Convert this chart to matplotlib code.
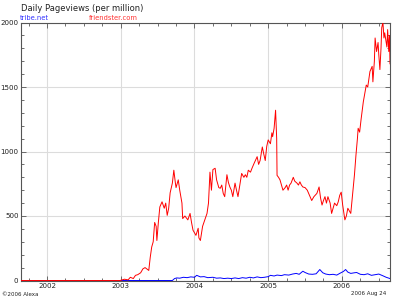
import matplotlib
matplotlib.use("Agg")
import matplotlib.pyplot as plt
from matplotlib.ticker import MultipleLocator, FixedLocator

# friendster.com daily pageviews (per million), x in decimal years
friendster_x = [2001.65, 2002.99, 2003.05, 2003.10, 2003.13, 2003.17, 2003.20, 2003.23, 2003.27, 2003.30,
                2003.33, 2003.38, 2003.40, 2003.42, 2003.44, 2003.46, 2003.48, 2003.49, 2003.51, 2003.53,
                2003.56, 2003.59, 2003.61, 2003.63, 2003.65, 2003.67, 2003.70, 2003.72, 2003.74, 2003.75,
                2003.78, 2003.80, 2003.83, 2003.84, 2003.87, 2003.91, 2003.94, 2003.96, 2003.98, 2004.02,
                2004.05, 2004.06, 2004.08, 2004.11, 2004.14, 2004.17, 2004.19, 2004.21, 2004.23, 2004.25,
                2004.28, 2004.30, 2004.33, 2004.35, 2004.37, 2004.39, 2004.41, 2004.44, 2004.46, 2004.48,
                2004.50, 2004.52, 2004.55, 2004.57, 2004.59, 2004.62, 2004.64, 2004.67, 2004.69, 2004.71,
                2004.73, 2004.76, 2004.78, 2004.81, 2004.85, 2004.87, 2004.89, 2004.92, 2004.94, 2004.96,
                2004.98, 2005.00, 2005.03, 2005.05, 2005.06, 2005.08, 2005.10, 2005.115, 2005.12, 2005.14,
                2005.16, 2005.18, 2005.20, 2005.23, 2005.25, 2005.27, 2005.29, 2005.31, 2005.34, 2005.36,
                2005.39, 2005.41, 2005.43, 2005.45, 2005.47, 2005.50, 2005.53, 2005.56, 2005.59, 2005.62,
                2005.66, 2005.69, 2005.71, 2005.73, 2005.75, 2005.77, 2005.79, 2005.81, 2005.84, 2005.86,
                2005.88, 2005.90, 2005.93, 2005.95, 2005.97, 2005.99, 2006.01, 2006.04, 2006.06, 2006.08,
                2006.10, 2006.12, 2006.15, 2006.17, 2006.19, 2006.21, 2006.22, 2006.24, 2006.26, 2006.29,
                2006.31, 2006.33, 2006.35, 2006.37, 2006.38, 2006.41, 2006.42, 2006.44, 2006.45, 2006.47,
                2006.49, 2006.50, 2006.515, 2006.53, 2006.54, 2006.556, 2006.57, 2006.58, 2006.60, 2006.61,
                2006.62, 2006.635, 2006.645, 2006.652]
friendster_y = [0, 0, 10, 5, 25, 15, 40, 45, 60, 90,
                100, 78, 180, 260, 300, 450, 420, 310, 450, 570,
                610, 560, 600, 505, 560, 680, 755, 855, 760, 720,
                780, 700, 600, 480, 500, 470, 520, 450, 390, 350,
                405, 330, 310, 420, 470, 520, 600, 840, 700, 860,
                870, 780, 720, 715, 740, 675, 650, 820, 760, 725,
                700, 650, 755, 700, 650, 760, 830, 800, 820, 800,
                855, 840, 870, 910, 960, 900, 930, 1035, 980, 930,
                1040, 1090, 1060, 1145, 1115, 1180, 1320, 1100, 815, 800,
                780, 740, 700, 720, 740, 700, 740, 755, 800, 770,
                755, 740, 765, 740, 725, 720, 700, 660, 620, 650,
                675, 725, 640, 585, 620, 650, 600, 650, 600, 520,
                560, 600, 580, 610, 660, 685, 585, 470, 500, 560,
                540, 520, 700, 820, 970, 1100, 1180, 1150, 1250, 1385,
                1450, 1515, 1500, 1580, 1620, 1660, 1540, 1700, 1880, 1775,
                1845, 1750, 1635, 1800, 1960, 2000, 1880, 1920, 1850, 1810,
                1945, 1775, 1900, 1680]

# tribe.net daily pageviews (per million)
tribe_x = [2001.65, 2003.70, 2003.73, 2003.76, 2003.80, 2003.85, 2003.90, 2003.95, 2004.00, 2004.03,
           2004.08, 2004.13, 2004.18, 2004.25, 2004.30, 2004.35, 2004.40, 2004.45, 2004.50, 2004.55,
           2004.60, 2004.65, 2004.70, 2004.75, 2004.80, 2004.85, 2004.90, 2004.95, 2005.00, 2005.03,
           2005.08, 2005.12, 2005.18, 2005.22, 2005.28, 2005.33, 2005.38, 2005.42, 2005.47, 2005.50,
           2005.55, 2005.60, 2005.65, 2005.70, 2005.74, 2005.78, 2005.83, 2005.88, 2005.93, 2005.97,
           2006.02, 2006.05, 2006.08, 2006.12, 2006.17, 2006.20, 2006.25, 2006.30, 2006.35, 2006.40,
           2006.45, 2006.50, 2006.55, 2006.60, 2006.652]
tribe_y = [0, 0, 15, 20, 18, 25, 22, 28, 25, 40,
           28, 30, 22, 25, 18, 20, 15, 18, 15, 20,
           15, 22, 18, 25, 20, 28, 22, 25, 30, 40,
           35, 42, 38, 45, 42, 50, 55, 48, 72, 62,
           50, 48, 52, 85, 60, 50, 45, 48, 42, 55,
           70, 85, 65, 55, 60, 62, 48, 45, 52, 40,
           45, 50, 38, 25, 15]

year_ticks = [2002, 2003, 2004, 2005, 2006]
year_labels = ["2002", "2003", "2004", "2005", "2006"]
y_ticks = [0, 500, 1000, 1500, 2000]

plt.rcParams['font.family'] = ['DejaVu Sans']

fig = plt.figure(figsize=(4, 3), dpi=100)
ax = fig.add_axes([21 / 400, 1 - 280.5 / 300, 369 / 400, 258 / 300])

ax.plot(tribe_x, tribe_y, color='#0000ff', lw=0.7, zorder=3)
ax.plot(friendster_x, friendster_y, color='#ff0000', lw=0.7, zorder=4)

ax.set_xlim(2001.647, 2006.652)
ax.set_ylim(0, 2000)

ax.xaxis.set_major_locator(FixedLocator(year_ticks))
ax.set_xticklabels(year_labels)
ax.xaxis.set_minor_locator(MultipleLocator(0.25))
ax.set_yticks(y_ticks)
ax.yaxis.set_minor_locator(MultipleLocator(100))

ax.grid(True, which='major', color='#dcdcdc', lw=0.8, zorder=0)
ax.tick_params(which='both', direction='in', top=True, right=True, bottom=True, left=True,
               color='#555555', width=0.6, labelsize=5.1, labelcolor='#222222', pad=1.8)
ax.tick_params(which='major', length=3.5)
ax.tick_params(which='minor', length=2)
for s in ax.spines.values():
    s.set_color('#555555')
    s.set_linewidth(0.8)

fig.text(21 / 400, 1 - 8.5 / 300, "Daily Pageviews (per million)", fontsize=6.0, color='#222222',
         ha='left', va='center')
fig.text(20 / 400, 1 - 17.5 / 300, "tribe.net", fontsize=4.9, color='#3333ff', ha='left', va='center')
fig.text(89 / 400, 1 - 17.5 / 300, "friendster.com", fontsize=4.9, color='#ff3333', ha='left', va='center')
fig.text(2 / 400, 1 - 294 / 300, "\u00a92006 Alexa", fontsize=4.0, color='#222222', ha='left', va='center')
fig.text(386 / 400, 1 - 294 / 300, "2006 Aug 24", fontsize=4.0, color='#222222', ha='right', va='center')

fig.savefig('out.png', dpi=100)
